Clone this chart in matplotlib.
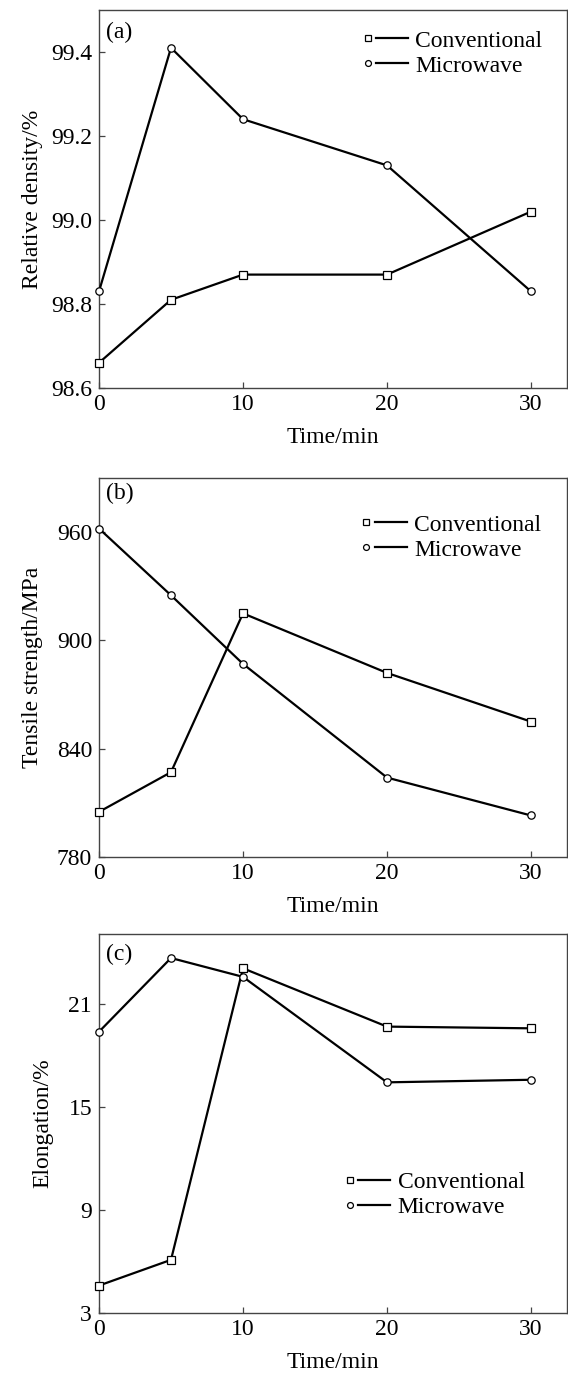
import matplotlib
matplotlib.use("Agg")
import matplotlib.pyplot as plt
from matplotlib.lines import Line2D
from matplotlib.legend_handler import HandlerBase

plt.rcParams['font.family'] = ['Liberation Serif', 'DejaVu Serif']
plt.rcParams['mathtext.fontset'] = 'stix'

# ---------------- data ----------------
time_min = [0, 5, 10, 20, 30]

density_conventional = [98.66, 98.81, 98.87, 98.87, 99.02]
density_microwave = [98.83, 99.41, 99.24, 99.13, 98.83]

strength_conventional = [805, 827, 915, 882, 855]
strength_microwave = [962, 925, 887, 824, 803]

elong_conventional = [4.6, 6.1, 23.1, 19.7, 19.6]
elong_microwave = [19.4, 23.7, 22.6, 16.45, 16.6]

series_labels = ["Conventional", "Microwave"]
panel_tags = ["(a)", "(b)", "(c)"]
y_labels = ["Relative density/%", "Tensile strength/MPa", "Elongation/%"]
x_label = "Time/min"
x_ticks = [0, 10, 20, 30]
y_ticks = [[98.6, 98.8, 99.0, 99.2, 99.4],
           [780, 840, 900, 960],
           [3, 9, 15, 21]]
y_ticklabels = [["98.6", "98.8", "99.0", "99.2", "99.4"],
                ["780", "840", "900", "960"],
                ["3", "9", "15", "21"]]
y_limits = [(98.6, 99.5), (780, 990), (3, 25.1)]

# ---------------- figure ----------------
W, H = 568, 1374
fig = plt.figure(figsize=(W / 100, H / 100), dpi=100)

FS = 17
LW = 1.6
SPINE = '#444444'

# axes rectangles in pixels: (left, top, right, bottom)
rects = [(99, 10, 567, 388), (99, 478, 567, 857), (99, 934, 567, 1313)]


class MarkerDashHandler(HandlerBase):
    def create_artists(self, legend, orig_handle, xdescent, ydescent,
                       width, height, fontsize, trans):
        y = height / 2 - ydescent
        x0 = -xdescent
        m = Line2D([x0 + 3], [y], marker=orig_handle.get_marker(),
                   markersize=orig_handle.get_markersize() * 0.8,
                   markerfacecolor='white', markeredgecolor='black',
                   markeredgewidth=0.9, linestyle='none', transform=trans)
        l = Line2D([x0 + 9, x0 + width], [y, y], color='black',
                   linewidth=LW, transform=trans)
        return [m, l]


conv_data = [density_conventional, strength_conventional, elong_conventional]
micro_data = [density_microwave, strength_microwave, elong_microwave]
legend_anchor = [(0.565, 0.947), (0.562, 0.905), (0.527, 0.373)]
tag_pos = [(0.015, 0.94), (0.015, 0.96), (0.015, 0.945)]
ylabel_x = [-0.142, -0.142, -0.12]

for i in range(3):
    l, t, r, b = rects[i]
    ax = fig.add_axes([l / W, 1 - b / H, (r - l) / W, (b - t) / H])
    hc, = ax.plot(time_min, conv_data[i], color='black', lw=LW, marker='s',
                  markersize=5.3, markerfacecolor='white', markeredgecolor='black',
                  markeredgewidth=0.9, label=series_labels[0], zorder=3)
    hm, = ax.plot(time_min, micro_data[i], color='black', lw=LW, marker='o',
                  markersize=5.3, markerfacecolor='white', markeredgecolor='black',
                  markeredgewidth=0.9, label=series_labels[1], zorder=3)
    for p in (hc, hm):
        p.set_clip_on(False)
    ax.set_xlim(0, 32.5)
    ax.set_ylim(*y_limits[i])
    ax.set_xticks(x_ticks)
    ax.set_xticklabels([str(v) for v in x_ticks])
    ax.set_yticks(y_ticks[i])
    ax.set_yticklabels(y_ticklabels[i])
    ax.tick_params(direction='in', length=4.5, width=0.9, color=SPINE,
                   labelsize=FS, top=False, right=False)
    ax.tick_params(axis='x', pad=4)
    ax.tick_params(axis='y', pad=5)
    for s in ax.spines.values():
        s.set_color(SPINE)
        s.set_linewidth(1.0)
    ax.set_xlabel(x_label, fontsize=FS)
    ax.xaxis.set_label_coords(0.5, -0.13)
    ax.xaxis.label.set_va('center')
    ax.set_ylabel(y_labels[i], fontsize=FS)
    ax.yaxis.set_label_coords(ylabel_x[i], 0.5)
    ax.yaxis.label.set_va('center')
    ax.text(tag_pos[i][0], tag_pos[i][1], panel_tags[i], transform=ax.transAxes,
            fontsize=FS, ha='left', va='center')
    ax.legend([hc, hm], series_labels, loc='upper left',
              bbox_to_anchor=legend_anchor[i], frameon=False, fontsize=FS,
              handler_map={Line2D: MarkerDashHandler()},
              handlelength=1.9, handletextpad=0.3, labelspacing=0.15,
              borderpad=0, borderaxespad=0)

fig.savefig("out.png", dpi=100)
